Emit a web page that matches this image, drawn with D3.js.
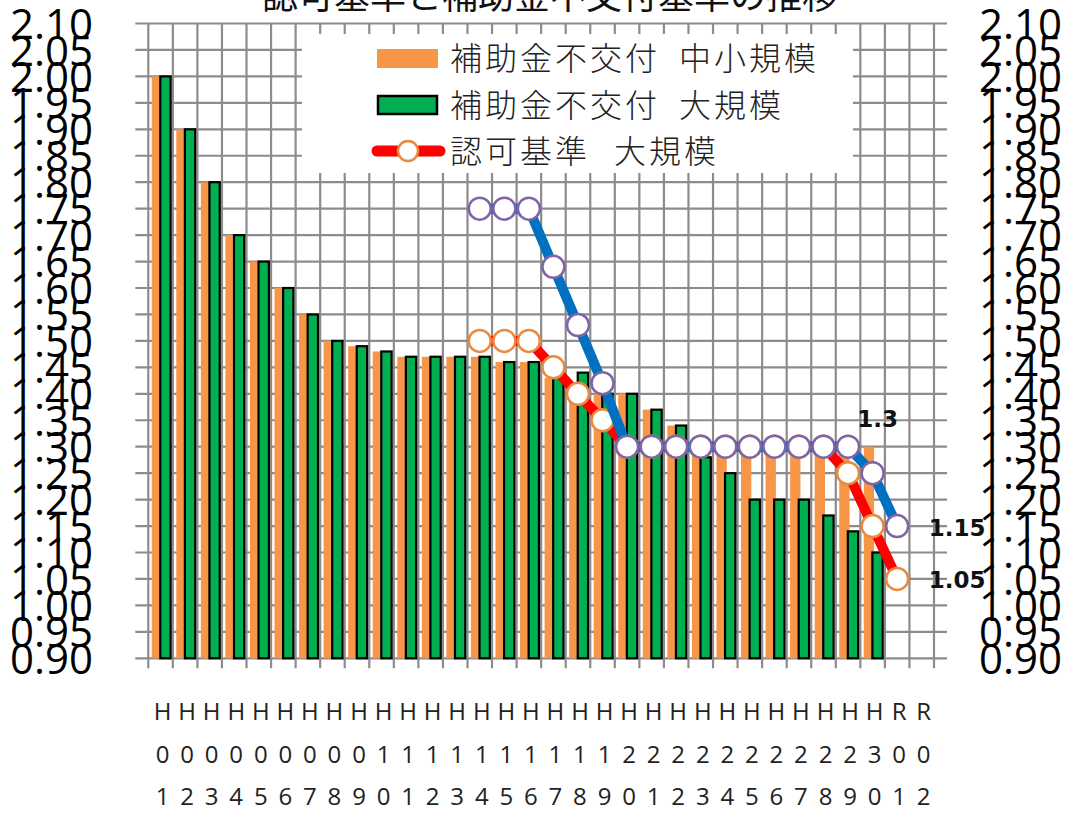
<!DOCTYPE html>
<html>
<head>
<meta charset="utf-8">
<script src="https://cdn.jsdelivr.net/npm/d3@7"></script>
<style>
  html, body { margin: 0; padding: 0; background: #fff; }
  svg { display: block; }
</style>
</head>
<body>
<svg id="chart" width="1065" height="827"></svg>
<script>
// categories (fiscal years)
const categories = ["H01","H02","H03","H04","H05","H06","H07","H08","H09","H10",
  "H11","H12","H13","H14","H15","H16","H17","H18","H19","H20",
  "H21","H22","H23","H24","H25","H26","H27","H28","H29","H30","R01","R02"];

// 補助金不交付 中小規模 (orange bars)
const smallNoGrant = [2.00,1.90,1.80,1.70,1.65,1.60,1.55,1.50,1.49,1.48,
  1.47,1.47,1.47,1.47,1.46,1.46,1.43,1.40,1.40,1.40,
  1.37,1.34,1.30,1.30,1.30,1.30,1.30,1.30,1.30,1.30,null,null];

// 補助金不交付 大規模 (green bars)
const largeNoGrant = [2.00,1.90,1.80,1.70,1.65,1.60,1.55,1.50,1.49,1.48,
  1.47,1.47,1.47,1.47,1.46,1.46,1.43,1.44,1.40,1.40,
  1.37,1.34,1.28,1.25,1.20,1.20,1.20,1.17,1.14,1.10,null,null];

// 認可基準 大規模 (red line)
const largeApproval = [null,null,null,null,null,null,null,null,null,null,
  null,null,null,1.50,1.50,1.50,1.45,1.40,1.35,1.30,
  1.30,1.30,1.30,1.30,1.30,1.30,1.30,1.30,1.25,1.15,1.05,null];

// 認可基準 中小規模 (blue line, not in legend)
const smallApproval = [null,null,null,null,null,null,null,null,null,null,
  null,null,null,1.75,1.75,1.75,1.64,1.53,1.42,1.30,
  1.30,1.30,1.30,1.30,1.30,1.30,1.30,1.30,1.30,1.25,1.15,null];

const yTicks = [0.90,0.95,1.00,1.05,1.10,1.15,1.20,1.25,1.30,1.35,1.40,1.45,
  1.50,1.55,1.60,1.65,1.70,1.75,1.80,1.85,1.90,1.95,2.00,2.05,2.10];

// point labels
const pointLabels = [
  { text: "1.3", cat: "H30", v: 1.30, dx: 5, dy: -20 },
  { text: "1.15", cat: "R01", v: 1.15, dx: 60, dy: 10 },
  { text: "1.05", cat: "R01", v: 1.05, dx: 60, dy: 9 }
];

const legendItems = ["補助金不交付\u2002中小規模", "補助金不交付\u2002大規模", "認可基準\u2002\u200A大規模"];

const title = "認可基準と補助金不交付基準の推移";

const colors = { orange: "#F79646", green: "#00B050", red: "#FF0000", blue: "#0070C0",
  redMarker: "#E98A3F", blueMarker: "#7F64A8", grid: "#8C8C8C" };

const svg = d3.select("#chart");
const plotLeft = 148.3, plotRight = 934, plotTop = 23.5, plotBottom = 658.3;

const x = d3.scaleBand().domain(categories).range([plotLeft, plotRight]).padding(0);
const y = d3.scaleLinear().domain([0.90, 2.10]).range([plotBottom, plotTop]);
const bw = x.bandwidth();
const cx = c => x(c) + bw / 2;

// title (cut off at top in the original)
svg.append("text")
  .attr("x", 550).attr("y", 9)
  .attr("text-anchor", "middle")
  .style("font-family", "'Noto Sans CJK JP'")
  .style("font-size", "36px")
  .attr("fill", "#111")
  .text(title);

// grid
const grid = svg.append("g").attr("stroke", colors.grid).attr("stroke-width", 2.2);
grid.selectAll("line.h").data(yTicks).join("line")
  .attr("class", "h")
  .attr("x1", plotLeft - 13).attr("x2", plotRight + 13)
  .attr("y1", d => y(d)).attr("y2", d => y(d));
grid.selectAll("line.v").data(d3.range(categories.length + 1)).join("line")
  .attr("class", "v")
  .attr("x1", i => plotLeft + i * bw).attr("x2", i => plotLeft + i * bw)
  .attr("y1", plotTop).attr("y2", plotBottom + 10);

// y axes (labels only)
const yFont = g => {
  g.select(".domain").remove();
  g.selectAll(".tick line").remove();
  g.selectAll("text")
    .style("font-family", "'Open Sans'")
    .style("font-size", "42px")
    .attr("fill", "#000")
    .attr("dy", "0.36em");
};
svg.append("g")
  .attr("transform", "translate(93,0)")
  .call(d3.axisLeft(y).tickValues(yTicks).tickFormat(d3.format(".2f")).tickSize(0).tickPadding(0))
  .call(yFont);
svg.append("g")
  .attr("transform", "translate(979,0)")
  .call(d3.axisRight(y).tickValues(yTicks).tickFormat(d3.format(".2f")).tickSize(0).tickPadding(0))
  .call(yFont);

// bars
const barData = categories.map((c, i) => ({ c, s: smallNoGrant[i], l: largeNoGrant[i] }));
svg.append("g").selectAll("rect").data(barData.filter(d => d.s != null)).join("rect")
  .attr("x", d => x(d.c) + 0.14 * bw)
  .attr("width", 0.42 * bw)
  .attr("y", d => y(d.s))
  .attr("height", d => y(0.90) - y(d.s))
  .attr("fill", colors.orange);
svg.append("g").selectAll("rect").data(barData.filter(d => d.l != null)).join("rect")
  .attr("x", d => x(d.c) + 0.49 * bw)
  .attr("width", 0.42 * bw)
  .attr("y", d => y(d.l))
  .attr("height", d => y(0.90) - y(d.l))
  .attr("fill", colors.green)
  .attr("stroke", "#000")
  .attr("stroke-width", 2.2);

// lines
function drawSeries(values, lineColor, markerColor) {
  const pts = categories.map((c, i) => ({ c, v: values[i] })).filter(d => d.v != null);
  const line = d3.line().x(d => cx(d.c)).y(d => y(d.v));
  svg.append("path")
    .attr("d", line(pts))
    .attr("fill", "none")
    .attr("stroke", lineColor)
    .attr("stroke-width", 10)
    .attr("stroke-linejoin", "round");
  svg.append("g").selectAll("circle").data(pts).join("circle")
    .attr("cx", d => cx(d.c))
    .attr("cy", d => y(d.v))
    .attr("r", 11)
    .attr("fill", "#fff")
    .attr("stroke", markerColor)
    .attr("stroke-width", 2.5);
}
drawSeries(largeApproval, colors.red, colors.redMarker);
drawSeries(smallApproval, colors.blue, colors.blueMarker);

// point labels
svg.append("g").selectAll("text").data(pointLabels).join("text")
  .attr("x", d => cx(d.cat) + d.dx)
  .attr("y", d => y(d.v) + d.dy)
  .attr("text-anchor", "middle")
  .style("font-family", "'DejaVu Sans'")
  .style("font-weight", "bold")
  .style("font-size", "23px")
  .attr("fill", "#111")
  .text(d => d.text);

// x labels: each character stacked
const xl = svg.append("g")
  .style("font-family", "'Open Sans'")
  .style("font-size", "24px")
  .attr("fill", "#222")
  .attr("text-anchor", "middle");
categories.forEach(c => {
  c.split("").forEach((ch, j) => {
    xl.append("text")
      .attr("x", cx(c) + 2)
      .attr("y", 720 + j * 42.5)
      .text(ch);
  });
});

// legend
const lg = svg.append("g");
lg.append("rect").attr("x", 302).attr("y", 34).attr("width", 551).attr("height", 139).attr("fill", "#fff");
lg.append("rect").attr("x", 377).attr("y", 49).attr("width", 61).attr("height", 19).attr("fill", colors.orange);
lg.append("rect").attr("x", 378).attr("y", 96).attr("width", 59).attr("height", 18)
  .attr("fill", colors.green).attr("stroke", "#000").attr("stroke-width", 2.5);
lg.append("line").attr("x1", 377).attr("x2", 440).attr("y1", 151).attr("y2", 151)
  .attr("stroke", colors.red).attr("stroke-width", 11).attr("stroke-linecap", "round");
lg.append("circle").attr("cx", 408).attr("cy", 151).attr("r", 10)
  .attr("fill", "#fff").attr("stroke", colors.redMarker).attr("stroke-width", 2.5);
lg.selectAll("text").data(legendItems).join("text")
  .attr("x", 450)
  .attr("y", (d, i) => 70 + i * 46.5)
  .style("font-family", "'Noto Sans CJK JP'")
  .style("font-size", "32px")
  .style("font-weight", 300)
  .style("letter-spacing", "3px")
  .attr("fill", "#222")
  .text(d => d);
</script>
</body>
</html>
